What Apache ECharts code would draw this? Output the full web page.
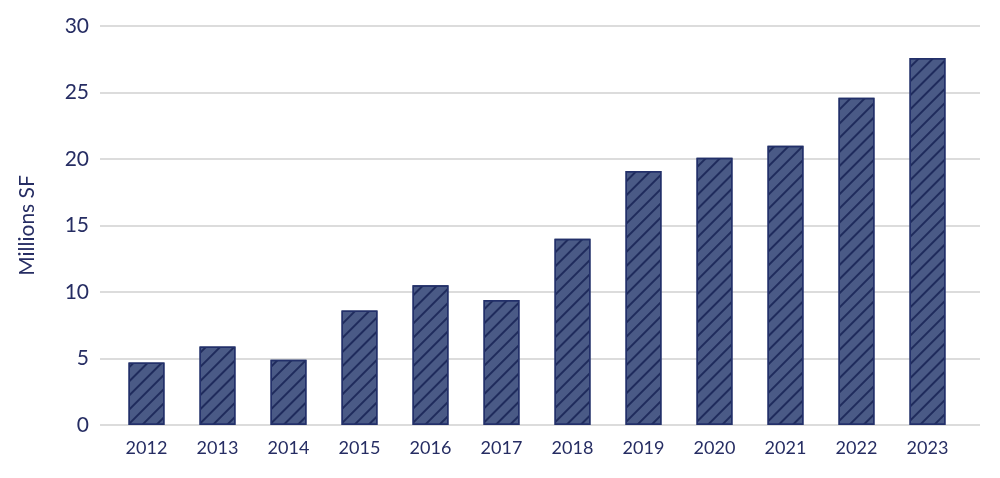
<!DOCTYPE html>
<html><head><meta charset="utf-8">
<script src="https://cdn.jsdelivr.net/npm/echarts@6/dist/echarts.min.js"></script>
<style>html,body{margin:0;padding:0;background:#fff}#c{width:1000px;height:478px}</style>
</head><body><div id="c"></div>
<script>
const categories = ['2012','2013','2014','2015','2016','2017','2018','2019','2020','2021','2022','2023'];
const values = [4.7, 5.9, 4.9, 8.6, 10.5, 9.4, 14.0, 19.1, 20.1, 21.0, 24.6, 27.6];
const yTicks = [0, 5, 10, 15, 20, 25, 30];
const yTitle = 'Millions SF';

const ink = '#262d63';
const font = 'Lato, "Noto Sans", sans-serif';
const chart = echarts.init(document.getElementById('c'));
chart.setOption({
  animation: false,
  grid: [
    {left: 100, right: 20, top: 26, bottom: 53},
    {left: 111, right: 37, top: 26, bottom: 53}
  ],
  xAxis: [
    {gridIndex: 0, type: 'value', show: false, min: 0, max: 1},
    {gridIndex: 1, type: 'category', data: categories,
     axisLine: {show: false}, axisTick: {show: false},
     axisLabel: {color: ink, fontFamily: font, fontSize: 18, margin: 14}}
  ],
  yAxis: [
    {gridIndex: 0, type: 'value', min: yTicks[0], max: yTicks[yTicks.length-1], interval: 5,
     name: yTitle, nameLocation: 'middle', nameGap: 62, nameRotate: 90,
     nameTextStyle: {color: ink, fontFamily: font, fontSize: 21},
     axisLine: {show: false}, axisTick: {show: false},
     axisLabel: {color: ink, fontFamily: font, fontSize: 21, margin: 11},
     splitLine: {lineStyle: {color: '#dcdcdc', width: 2}}},
    {gridIndex: 1, type: 'value', min: 0, max: 30, show: false, splitLine: {show: false}}
  ],
  series: [{
    type: 'bar', xAxisIndex: 1, yAxisIndex: 1, data: values, barWidth: 36,
    itemStyle: {
      color: '#4a5a86', borderColor: '#23306a', borderWidth: 1.5,
      decal: {symbol: 'rect', dashArrayX: [1, 0], dashArrayY: [2, 8], rotation: -Math.PI / 4, color: '#1f2b5c'}
    }
  }]
});
</script></body></html>
